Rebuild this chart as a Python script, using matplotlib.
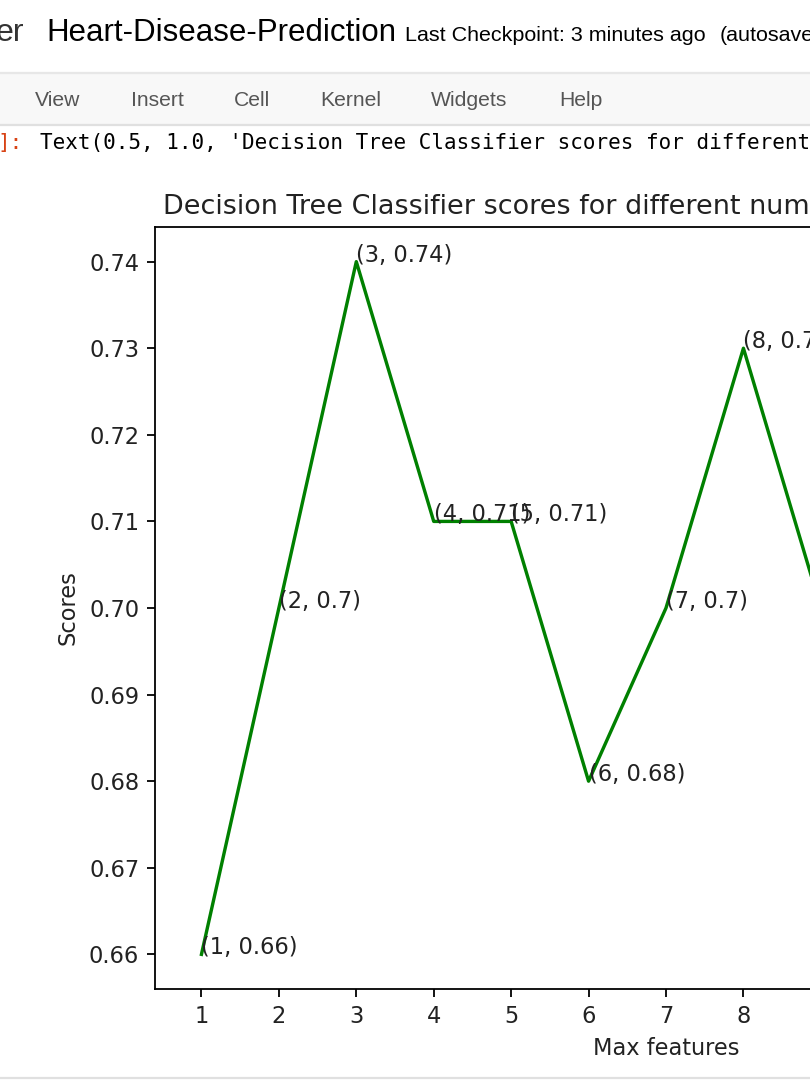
import numpy as np
import matplotlib
matplotlib.use("Agg")
from matplotlib import pyplot as plt
from matplotlib.patches import Rectangle
from matplotlib.lines import Line2D
from matplotlib.ticker import FormatStrFormatter


W, H = 810, 1080
DPI = 162

# Decision tree scores (max_features 1..9 are visible)
max_features = [1, 2, 3, 4, 5, 6, 7, 8, 9]
dt_scores = [0.66, 0.70, 0.74, 0.71, 0.71, 0.68, 0.70, 0.73, 0.70]
n_columns = 13

menu_items = ["View", "Insert", "Cell", "Kernel", "Widgets", "Help"]
menu_x = [35, 131, 234, 320, 431, 559]


def fx(x: float) -> float:
    return x / W


def fy(y: float) -> float:
    return 1 - y / H


fig = plt.figure(figsize=(W / DPI, H / DPI), dpi=DPI)
fig.patch.set_facecolor("white")

# ---- notebook chrome ----
fig.text(fx(-4), fy(41), "er", fontsize=14.3, family="Liberation Sans", color="#333333", va="baseline")
fig.text(fx(46), fy(41), "Heart-Disease-Prediction", fontsize=13.9, family="Liberation Sans", color="black", va="baseline")
fig.text(fx(405), fy(41), "Last Checkpoint: 3 minutes ago", fontsize=9.55, family="Liberation Sans", color="black", va="baseline")
fig.text(fx(720), fy(41), "(autosaved)", fontsize=9.55, family="Liberation Sans", color="black", va="baseline")

fig.patches.append(Rectangle((0, fy(125)), 1, fy(73) - fy(125), transform=fig.transFigure,
                             facecolor="#f8f8f8", edgecolor="none", zorder=0))
fig.lines.append(Line2D([0, 1], [fy(73), fy(73)], transform=fig.transFigure, color="#e7e7e7", lw=1))
fig.lines.append(Line2D([0, 1], [fy(125), fy(125)], transform=fig.transFigure, color="#e0e0e0", lw=1))
for label, x in zip(menu_items, menu_x):
    fig.text(fx(x), fy(106), label, fontsize=9.4, family="Liberation Sans", color="#555555", va="baseline")

fig.text(fx(-3), fy(149), "]:", fontsize=9.3, family="DejaVu Sans Mono", color="#d84315", va="baseline")
fig.text(fx(40), fy(149), "Text(0.5, 1.0, 'Decision Tree Classifier scores for different number of maximum features')",
         fontsize=9.3, family="DejaVu Sans Mono", color="black", va="baseline")

fig.lines.append(Line2D([0, 1], [fy(1078), fy(1078)], transform=fig.transFigure, color="#e0e0e0", lw=1))

# ---- chart (axes runs past the right edge of the screenshot) ----
ax = fig.add_axes([fx(155), fy(989), (1177 - 155) / W, (989 - 227) / H])
ax.plot(max_features, dt_scores, color="green")
for i, score in zip(max_features, dt_scores):
    ax.text(i, score, (i, score), color="#222222")
ax.set_xticks(list(range(1, n_columns + 1)))
ax.set_xlim(0.4, n_columns + 0.6)
ax.set_ylim(0.656, 0.744)
ax.set_yticks(np.round(np.arange(0.66, 0.7401, 0.01), 2))
ax.yaxis.set_major_formatter(FormatStrFormatter("%.2f"))
ax.tick_params(labelcolor="#222222")
ax.set_xlabel("Max features", color="#222222")
ax.set_ylabel("Scores", color="#222222")
ax.set_title("Decision Tree Classifier scores for different number of maximum features", color="#222222", x=0.493)

fig.savefig("out.png", dpi=DPI)
